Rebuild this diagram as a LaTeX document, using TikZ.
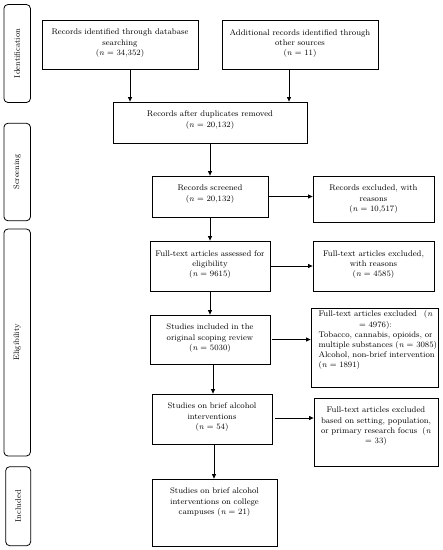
\documentclass[tikz,border=0pt]{standalone}
\usetikzlibrary{arrows.meta}
\begin{document}
\begin{tikzpicture}[x=1pt,y=-1pt,
  box/.style={draw, line width=0.8pt, inner sep=0pt},
  side/.style={draw, line width=0.8pt, rounded corners=4pt, inner sep=0pt},
  txt/.style={inner sep=0pt, align=center, anchor=north, font=\fontsize{8.2}{10.2}\selectfont},
  sidetxt/.style={inner sep=0pt, rotate=90, font=\fontsize{8}{10}\selectfont},
  arr/.style={line width=0.8pt, -{Triangle[length=4.5pt,width=4pt]}}]
\useasboundingbox (0,0) rectangle (443,550);
\fill[white] (0,0) rectangle (443,550);
% side labels
\node[side, minimum width=26.5pt, minimum height=98pt] (s1) at (17.2,53.5) {};
\node[sidetxt] (t1) at (s1.center) {Identification};
\node[side, minimum width=26.5pt, minimum height=97.5pt] (s2) at (17.2,172) {};
\node[sidetxt] (t2) at (s2.center) {Screening};
\node[side, minimum width=26.5pt, minimum height=227pt] (s3) at (17.2,342.5) {};
\node[sidetxt] (t3) at (s3.center) {Eligibility};
\node[side, minimum width=25pt, minimum height=79pt] (s4) at (18.2,506.2) {};
\node[sidetxt] (t4) at (s4.center) {Included};
% boxes
\node[box, minimum width=156pt, minimum height=49pt] (A) at (120,44.5) {};
\node[txt, text width=150pt] (tA) at (120,29) {Records identified through database\\ searching\\ (\textit{n} = 34,352)};
\node[box, minimum width=156pt, minimum height=49pt] (B) at (300,44.5) {};
\node[txt, text width=150pt] (tB) at (300,29) {Additional records identified through\\ other sources\\ (\textit{n} = 11)};
\node[box, minimum width=194pt, minimum height=41pt] (C) at (210,122.5) {};
\node[txt, text width=180pt] (tC) at (210,111) {Records after duplicates removed\\ (\textit{n} = 20,132)};
\node[box, minimum width=116pt, minimum height=41pt] (D) at (210,196.5) {};
\node[txt, text width=110pt] (tD) at (210,185) {Records screened\\ (\textit{n} = 20,132)};
\node[box, minimum width=121pt, minimum height=46pt] (E) at (373.5,199) {};
\node[txt, text width=115pt] (tE) at (373.5,185) {Records excluded, with\\ reasons\\ (\textit{n} = 10,517)};
\node[box, minimum width=120pt, minimum height=50pt] (F) at (210,266) {};
\node[txt, text width=114pt] (tF) at (210,250.5) {Full-text articles assessed for\\ eligibility\\ (\textit{n} = 9615)};
\node[box, minimum width=121pt, minimum height=50pt] (G) at (373.5,266) {};
\node[txt, text width=115pt] (tG) at (373.5,250.5) {Full-text articles excluded,\\ with reasons\\ (\textit{n} = 4585)};
\node[box, minimum width=120pt, minimum height=49pt] (H) at (210,339.5) {};
\node[txt, text width=114pt] (tH) at (210,324) {Studies included in the\\ original scoping review\\ (\textit{n} = 5030)};
\node[box, minimum width=127pt, minimum height=79pt] (I) at (374.5,347.5) {};
\node[txt, text width=114pt, align=left] (tI) at (375.5,310.5) {\makebox[\linewidth][s]{Full-text articles excluded\hfill(\textit{n}}\\
\makebox[\linewidth][c]{= 4976):}\\
\makebox[\linewidth][s]{Tobacco, cannabis, opioids, or}\\
\makebox[\linewidth][s]{multiple substances (\textit{n} = 3085)}\\
\makebox[\linewidth][s]{Alcohol, non-brief intervention}\\
(\textit{n} = 1891)};
\node[box, minimum width=120pt, minimum height=50pt] (J) at (212,419) {};
\node[txt, text width=114pt] (tJ) at (212,403) {Studies on brief alcohol\\ interventions\\ (\textit{n} = 54)};
\node[box, minimum width=124pt, minimum height=68pt] (K) at (376,432) {};
\node[txt, text width=110pt] (tK) at (376,407) {Full-text articles excluded\\ \mbox{based on setting, population,}\\ \makebox[\linewidth][s]{or primary research focus\hfill(\textit{n}}\\ = 33)};
\node[box, minimum width=125pt, minimum height=67pt] (L) at (214.5,512.5) {};
\node[txt, text width=118pt] (tL) at (214.5,488) {Studies on brief alcohol\\ interventions on college\\ campuses (\textit{n} = 21)};
% connectors
\coordinate (a1) at ([xshift=10pt]A.south);
\draw[arr] (a1) -- (a1 |- C.north);
\coordinate (b1) at ([xshift=-11pt]B.south);
\draw[arr] (b1) -- (b1 |- C.north);
\draw[arr] (C.south) -- (D.north);
\draw[arr] (D.east) -- (D.east -| E.west);
\draw[arr] (D.south) -- (F.north);
\draw[arr] (F.east) -- (F.east -| G.west);
\draw[arr] (F.south) -- (H.north);
\coordinate (h1) at ([xshift=2pt]H.east);
\draw[arr] (h1) -- (h1 -| I.west);
\coordinate (h2) at ([xshift=3pt]H.south);
\draw[arr] (h2) -- (h2 |- J.north);
\coordinate (j1) at ([xshift=3pt,yshift=1pt]J.east);
\draw[arr] (j1) -- (j1 -| K.west);
\coordinate (j2) at ([xshift=2pt]J.south);
\draw[arr] (j2) -- (j2 |- L.north);
\end{tikzpicture}
\end{document}
